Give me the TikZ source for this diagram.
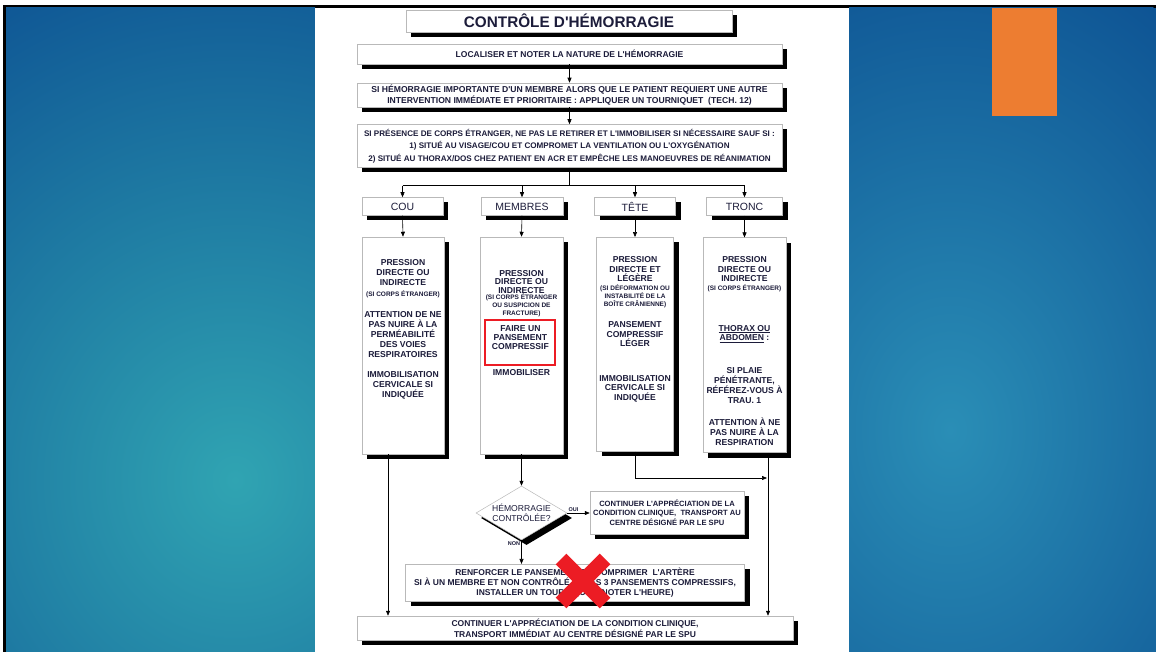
\documentclass[tikz,border=0pt]{standalone}
\usepackage{fontspec}
\setmainfont{Liberation Sans}[Ligatures=TeXOff]
\usetikzlibrary{arrows.meta,shapes.geometric,shadows}
\definecolor{fond}{RGB}{14,84,148}
\definecolor{lueurG}{RGB}{48,164,178}
\definecolor{lueurD}{RGB}{42,142,182}
\definecolor{orangeP}{RGB}{237,125,49}
\definecolor{encre}{RGB}{28,28,58}
\definecolor{rougeX}{RGB}{236,28,36}
\newcommand\fonte[2]{\fontsize{#1}{#2}\selectfont\bfseries}
\newcommand\fonteR[2]{\fontsize{#1}{#2}\selectfont}

\tikzset{
  boite/.style={draw=gray!55, fill=white, line width=0.5pt, inner sep=0pt, align=center, text=encre,
    drop shadow={shadow xshift=5pt, shadow yshift=-5pt, opacity=1, fill=black}},
  txt/.style={inner sep=0pt, align=center, text=encre, font=\fonte{8.6}{10}},
  serre/.style={inner sep=0pt, align=center, text=encre, font=\fonte{8.6}{8.5}},
  note/.style={inner sep=0pt, align=center, text=encre, font=\fonte{6.5}{8.1}},
  fleche/.style={-{Triangle[length=5pt,width=4pt]}, line width=0.6pt},
  lien/.style={line width=0.6pt},
}

\begin{document}
\begin{tikzpicture}[x=1pt,y=-1pt]
\useasboundingbox (0,0) rectangle (1156,652);
% fond de la diapositive
\fill[white] (0,0) rectangle (1156,652);
\fill[black] (3,5) rectangle (1156,8);
\fill[black] (3,5) rectangle (6,652);
\fill[fond] (6,8) rectangle (1156,652);
\begin{scope}
  \clip (6,8) rectangle (315,652);
  \shade[inner color=lueurG, outer color=fond] (235,480) ellipse (520 and 560);
\end{scope}
\begin{scope}
  \clip (849,8) rectangle (1156,652);
  \shade[inner color=lueurD, outer color=fond] (950,430) ellipse (380 and 500);
\end{scope}
\fill[white] (315,8) rectangle (849,652);
\fill[orangeP] (992,8) rectangle (1057,116);

% en-tete
\node[boite, minimum width=326, minimum height=22, font=\fonte{15.3}{18}] (titre) at (569,21) {CONTRÔLE D'HÉMORRAGIE};
\node[boite, minimum width=425, minimum height=20, font=\fonte{8.5}{10}] (locali) at (569.5,54) {LOCALISER ET NOTER LA NATURE DE L'HÉMORRAGIE};
\node[boite, minimum width=425, minimum height=24, font=\fonte{8.6}{10.8}] (tourniq) at (569.5,95)
  {SI HÉMORRAGIE IMPORTANTE D'UN MEMBRE ALORS QUE LE PATIENT REQUIERT UNE AUTRE\\
   INTERVENTION IMMÉDIATE ET PRIORITAIRE : APPLIQUER UN TOURNIQUET\ \ (TECH. 12)};
\node[boite, minimum width=425, minimum height=43, font=\fonte{8.1}{12.3}] (corps) at (569.5,146)
  {SI PRÉSENCE DE CORPS ÉTRANGER, NE PAS LE RETIRER ET L'IMMOBILISER SI NÉCESSAIRE SAUF SI :\\
   1) SITUÉ AU VISAGE/COU ET COMPROMET LA VENTILATION OU L'OXYGÉNATION\\
   2) SITUÉ AU THORAX/DOS CHEZ PATIENT EN ACR ET EMPÊCHE LES MANOEUVRES DE RÉANIMATION};

% regions
\node[boite, minimum width=81, minimum height=18, font=\fonteR{10.5}{12}] (cou) at (402.5,206.5) {COU};
\node[boite, minimum width=82, minimum height=18, font=\fonteR{10.5}{12}] (membres) at (522,206.5) {MEMBRES};
\node[boite, minimum width=81, minimum height=18, font=\fonteR{10.5}{12}] (tete) at (635,206.5) {TÊTE};
\node[boite, minimum width=76, minimum height=18, font=\fonteR{10.5}{12}] (tronc) at (744.5,206.5) {TRONC};

\node[boite, minimum width=82, minimum height=217] (colcou) at (403,345.5) {};
\node[boite, minimum width=83, minimum height=217] (colmembres) at (521.5,345.5) {};
\node[boite, minimum width=77, minimum height=214] (coltete) at (635,344.3) {};
\node[boite, minimum width=83, minimum height=215] (coltronc) at (744.5,345.2) {};

\node[txt] (couA) at (403,272.7) {PRESSION\\DIRECTE OU\\INDIRECTE};
\node[note] (couB) at (403,294.3) {(SI CORPS ÉTRANGER)};
\node[txt] (couC) at (403,334.3) {ATTENTION DE NE\\PAS NUIRE À LA\\PERMÉABILITÉ\\DES VOIES\\RESPIRATOIRES};
\node[txt] (couD) at (403,385.7) {IMMOBILISATION\\CERVICALE SI\\INDIQUÉE};

\node[serre] (memA) at (521.5,281.7) {PRESSION\\DIRECTE OU\\INDIRECTE};
\node[note, font=\fonte{6.5}{8}] (memB) at (521.5,305.7) {(SI CORPS ÉTRANGER\\OU SUSPICION DE\\FRACTURE)};
\node[draw=rougeX, line width=2pt, minimum width=70, minimum height=45, inner sep=0pt,
  align=center, text=encre, font=\fonte{8.6}{9}] (faire) at (520.4,342.2) {FAIRE UN\\PANSEMENT\\COMPRESSIF\\[0pt]\mbox{}};
\node[txt] (memD) at (521.5,372.3) {IMMOBILISER};

\node[txt, font=\fonte{8.6}{9.7}] (teteA) at (635,269.2) {PRESSION\\DIRECTE ET\\LÉGÈRE};
\node[note] (teteB) at (635,296) {(SI DÉFORMATION OU\\INSTABILITÉ DE LA\\BOÎTE CRÂNIENNE)};
\node[txt, font=\fonte{8.6}{9.5}] (teteC) at (635,334.4) {PANSEMENT\\COMPRESSIF\\LÉGER};
\node[txt, font=\fonte{8.6}{9.4}] (teteD) at (635,388.6) {IMMOBILISATION\\CERVICALE SI\\INDIQUÉE};

\node[txt, font=\fonte{8.6}{9.7}] (tronA) at (744.5,269.2) {PRESSION\\DIRECTE OU\\INDIRECTE};
\node[note] (tronB) at (744.5,288) {(SI CORPS ÉTRANGER)};
\node[txt, font=\fonte{8.6}{9.7}] (tronC) at (744.5,333.9) {\underline{THORAX OU}\\\underline{ABDOMEN} :};
\node[txt] (tronD) at (744.5,385.8) {SI PLAIE\\PÉNÉTRANTE,\\RÉFÉREZ-VOUS À\\TRAU. 1};
\node[txt, font=\fonte{8.6}{9.8}] (tronE) at (744.5,432) {ATTENTION À NE\\PAS NUIRE À LA\\RESPIRATION};

% decision et suites
\node[boite, diamond, aspect=1.7, minimum width=91, minimum height=54, font=\fonteR{8.6}{10}] (ctrl) at (521.5,513)
  {HÉMORRAGIE\\CONTRÔLÉE?};
\node[boite, minimum width=154, minimum height=43, font=\fonte{7.6}{9.2}] (oui) at (667,512.5)
  {CONTINUER L'APPRÉCIATION DE LA\\CONDITION CLINIQUE,\ \ TRANSPORT AU\\CENTRE DÉSIGNÉ PAR LE SPU};
\node[boite, minimum width=339, minimum height=37, font=\fonte{8.5}{10}] (renfo) at (575,582.7)
  {RENFORCER LE PANSEMENT OU COMPRIMER\ \ L'ARTÈRE\\
   SI À UN MEMBRE ET NON CONTRÔLÉ APRÈS 3 PANSEMENTS COMPRESSIFS,\\
   INSTALLER UN TOURNIQUET (NOTER L'HEURE)};
\node[boite, minimum width=436, minimum height=24, font=\fonte{8.5}{10.6}] (final) at (575,628)
  {CONTINUER L'APPRÉCIATION DE LA CONDITION CLINIQUE,\\
   TRANSPORT IMMÉDIAT AU CENTRE DÉSIGNÉ PAR LE SPU};

% liens
\draw[fleche] (locali) -- (tourniq);
\draw[fleche] (tourniq) -- (corps);
\draw[lien] (corps.south) -- ++(0,18) coordinate (split);
\draw[lien] (cou.north |- split) -- (tronc.north |- split);
\foreach \b in {cou,membres,tete,tronc}
  \draw[fleche] (\b.north |- split) -- (\b.north);
\foreach \b in {cou,membres,tete,tronc}
  \draw[fleche] (\b.south) -- (col\b.north);

\coordinate (cg) at ([xshift=-15pt]colcou.south);
\coordinate (tr) at ([xshift=23.5pt]coltronc.south);
\coordinate (coude) at (767,478);
\draw[fleche] (cg) -- (cg |- final.north);
\draw[fleche] (tr) -- (tr |- final.north);
\draw[fleche] (coltete.south) |- (coude);
\draw[fleche] (colmembres.south) -- (ctrl.north);
\draw[fleche] (ctrl.east) -- (ctrl.east -| oui.west)
  node[pos=0, above right, inner sep=1pt, text=encre, font=\fonte{5.5}{6}] {OUI};
\draw[fleche] (ctrl.south) -- (ctrl.south |- renfo.north)
  node[pos=0, below left, inner sep=1pt, text=encre, font=\fonte{5.5}{6}] {NON};

% croix rouge
\draw[rougeX, line width=15pt] (561,559) -- (605,603);
\draw[rougeX, line width=15pt] (605,559) -- (561,603);
\end{tikzpicture}
\end{document}
